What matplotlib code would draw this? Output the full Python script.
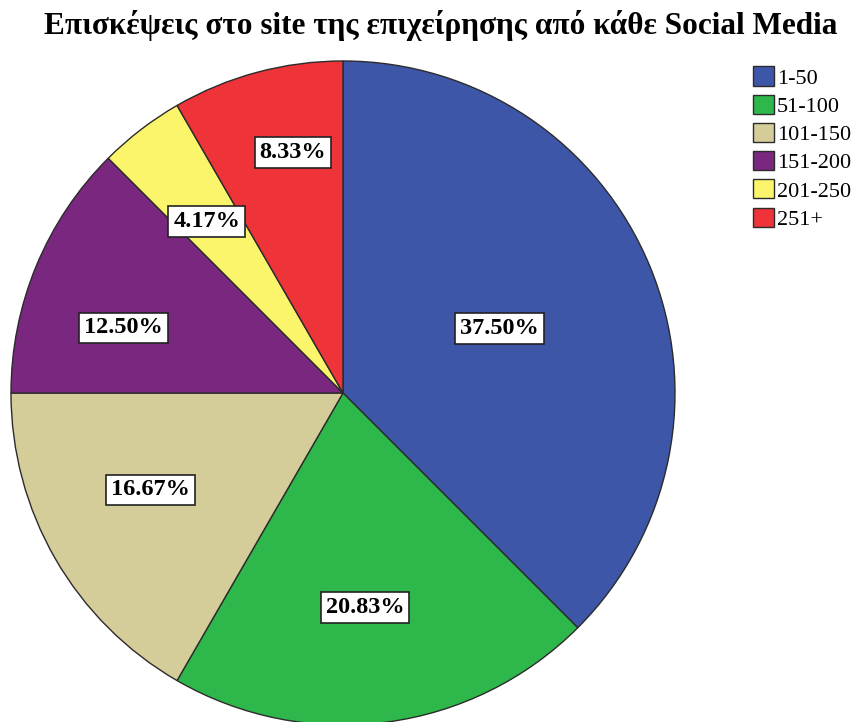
import numpy as np
import matplotlib
matplotlib.use("Agg")
import matplotlib.pyplot as plt

# Δεδομένα του γραφήματος
kathgories = ["1-50", "51-100", "101-150", "151-200", "201-250", "251+"]
pososta = [37.50, 20.83, 16.67, 12.50, 4.17, 8.33]
xromata = ["#3e56a8", "#2eb84b", "#d5cd99", "#7a287f", "#fbf56b", "#ee3339"]
# θέση κάθε ετικέτας: απόσταση (κλάσμα ακτίνας) και μετατόπιση γωνίας (μοίρες)
apostaseis = [0.51, 0.65, 0.65, 0.69, 0.66, 0.74]
metatopiseis = [0, -1.7, -3.3, 6, 1, -3.2]

W, H = 867, 722
fig = plt.figure(figsize=(W / 100, H / 100), dpi=100)
ax = fig.add_axes([0, 0, 1, 1])

kentro = (343, 329)
aktina = 332

wedges, _ = ax.pie(pososta, colors=xromata, startangle=90, counterclock=False,
                   center=kentro, radius=aktina,
                   wedgeprops=dict(edgecolor="#2b2b2b", linewidth=1.0))

# η pie αλλάζει τα όρια, τα ξαναβάζουμε σε pixels
ax.set_xlim(0, W)
ax.set_ylim(0, H)
ax.set_aspect("equal")
ax.axis("off")

# ετικέτες ποσοστών
for w, p, d, dth in zip(wedges, pososta, apostaseis, metatopiseis):
    gwnia = np.deg2rad((w.theta1 + w.theta2) / 2 + dth)
    x = kentro[0] + d * aktina * np.cos(gwnia)
    y = kentro[1] + d * aktina * np.sin(gwnia)
    ax.text(x, y, f"{p:.2f}%", ha="center", va="center",
            fontfamily="Liberation Serif", fontweight="bold", fontsize=17.5,
            bbox=dict(boxstyle="square,pad=0.2", facecolor="white",
                      edgecolor="#222222", linewidth=1.2))

fig.text(0.508, 0.964, "Επισκέψεις στο site της επιχείρησης από κάθε Social Media",
         ha="center", va="center", fontfamily="Liberation Serif",
         fontweight="bold", fontsize=22.5)

leg = ax.legend(wedges, kathgories, loc="upper left",
                bbox_to_anchor=(0.868, 0.908), frameon=False,
                prop=dict(family="Liberation Serif", size=16),
                handlelength=0.95, handleheight=0.95, handletextpad=0.15,
                labelspacing=0.27, borderaxespad=0, borderpad=0)

fig.savefig("out.png", dpi=100)
